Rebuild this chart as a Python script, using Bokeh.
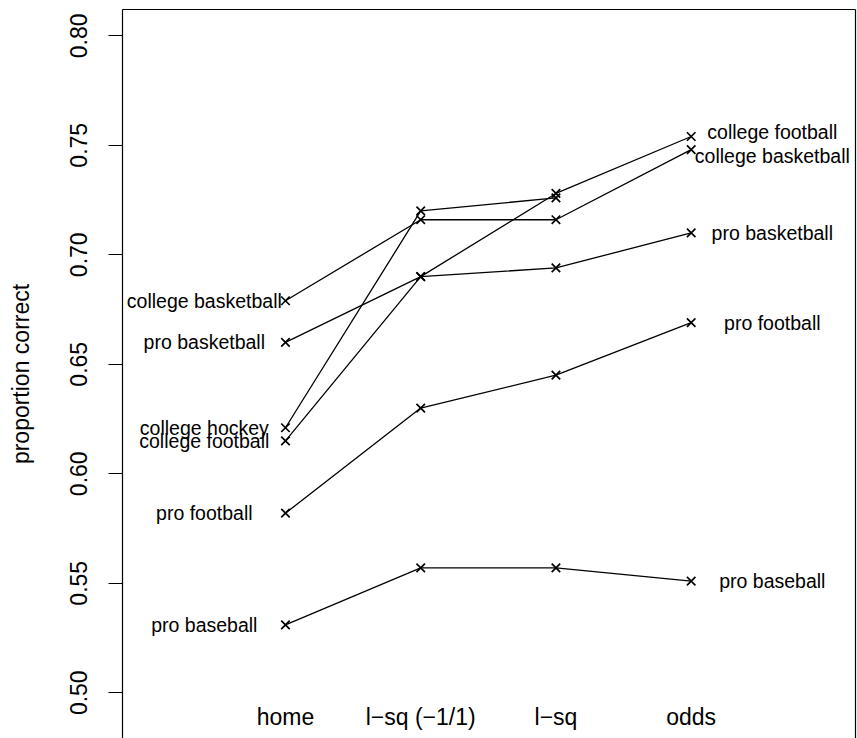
from bokeh.plotting import figure
from bokeh.models import LinearAxis, FixedTicker, Range1d, ColumnDataSource, PrintfTickFormatter
from bokeh.core.properties import value
from bokeh.embed import file_html
from bokeh.resources import INLINE

# ---------------- data ----------------
methods = ["home", "l\u2212sq (\u22121/1)", "l\u2212sq", "odds"]
method_pos = [1, 2, 3, 4]

series_names = ["college basketball", "pro basketball", "college hockey",
                "college football", "pro football", "pro baseball"]
college_basketball = [0.679, 0.716, 0.716, 0.748]
pro_basketball = [0.660, 0.690, 0.694, 0.710]
college_hockey = [0.621, 0.720, 0.726]
college_football = [0.615, 0.690, 0.728, 0.754]
pro_football = [0.582, 0.630, 0.645, 0.669]
pro_baseball = [0.531, 0.557, 0.557, 0.551]
series_values = [college_basketball, pro_basketball, college_hockey,
                 college_football, pro_football, pro_baseball]

y_ticks = [0.50, 0.55, 0.60, 0.65, 0.70, 0.75, 0.80]

# ---------------- style ----------------
FONT = "Liberation Sans"
AXIS_FS = "23px"
LABEL_FS = "19.5px"
LEFT_LABEL_X = 0.4
RIGHT_LABEL_X = 4.6
METHOD_LABEL_Y = 0.489
right_nudge = {"college football": -5, "college basketball": 6}

p = figure(width=857, height=738, output_backend="svg", toolbar_location=None,
           x_range=Range1d(-0.205, 5.215), y_range=Range1d(0.4791, 0.812),
           x_axis_location=None,
           min_border_left=122, min_border_right=2, min_border_top=9, min_border_bottom=0)
p.outline_line_color = None
p.grid.visible = False
p.background_fill_color = "white"
p.border_fill_color = "white"

yax = p.yaxis[0]
yax.ticker = FixedTicker(ticks=y_ticks)
yax.formatter = PrintfTickFormatter(format="%.2f")
yax.major_label_orientation = "vertical"
yax.major_label_text_font = FONT
yax.major_label_text_font_size = AXIS_FS
yax.major_label_text_color = "black"
yax.major_label_standoff = 21
yax.minor_tick_line_color = None
yax.major_tick_in = 0
yax.major_tick_out = 14
yax.major_tick_line_color = "black"
yax.major_tick_line_width = 1.2
yax.axis_line_color = "black"
yax.axis_line_width = 1.2
yax.axis_label = "proportion correct"
yax.axis_label_text_font = FONT
yax.axis_label_text_font_size = AXIS_FS
yax.axis_label_text_font_style = "normal"
yax.axis_label_text_color = "black"
yax.axis_label_standoff = 34

for side in ("above", "right"):
    ax = LinearAxis(ticker=FixedTicker(ticks=[]),
                    major_tick_line_color=None, minor_tick_line_color=None,
                    major_label_text_font_size="0px",
                    major_tick_out=0, major_tick_in=0,
                    minor_tick_out=0, minor_tick_in=0,
                    major_label_standoff=0,
                    axis_line_color="black", axis_line_width=1.2)
    p.add_layout(ax, side)

# lines and markers
for name, vals in zip(series_names, series_values):
    xs = method_pos[:len(vals)]
    p.line(xs, vals, line_color="black", line_width=1.3)
    p.scatter(xs, vals, marker="x", size=12, line_color="black", line_width=1.7)

# left labels (first method)
left_src = ColumnDataSource(dict(
    x=[LEFT_LABEL_X] * len(series_names),
    y=[v[0] for v in series_values],
    t=series_names))
p.text("x", "y", text="t", source=left_src, text_align="center", text_baseline="middle",
       text_font=value(FONT), text_font_size=LABEL_FS, text_color="black")

# right labels (last method)
rn, ry, ro = [], [], []
for name, vals in zip(series_names, series_values):
    if len(vals) == len(methods):
        rn.append(name)
        ry.append(vals[-1])
        ro.append(right_nudge.get(name, 0))
right_src = ColumnDataSource(dict(x=[RIGHT_LABEL_X] * len(rn), y=ry, t=rn, off=ro))
p.text("x", "y", text="t", source=right_src, y_offset="off",
       text_align="center", text_baseline="middle",
       text_font=value(FONT), text_font_size=LABEL_FS, text_color="black")

# method labels along the bottom
m_src = ColumnDataSource(dict(x=method_pos, y=[METHOD_LABEL_Y] * len(methods), t=methods))
p.text("x", "y", text="t", source=m_src, text_align="center", text_baseline="middle",
       text_font=value(FONT), text_font_size=AXIS_FS, text_color="black")

open("out.html", "w").write(file_html(p, INLINE))
